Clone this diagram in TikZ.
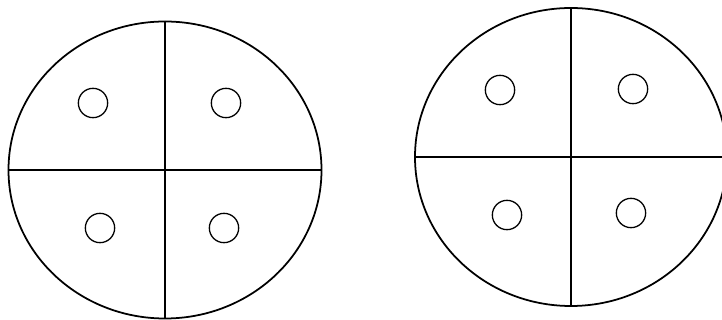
\documentclass[tikz,border=0pt]{standalone}
\usetikzlibrary{shapes.geometric}
\begin{document}
\begin{tikzpicture}[x=0.03cm, y=-0.03cm]
    % Define styles
    \tikzstyle{disc} = [ellipse, draw, line width=1.5pt, inner sep=0pt]
    \tikzstyle{hole} = [circle, draw, line width=1.1pt, inner sep=0pt, minimum size=0.88cm]
    \tikzstyle{cut} = [line width=1.2pt]

    \useasboundingbox (0,0) rectangle (722,320);

    % LEFT DISC
    \node (leftdisc) [disc, minimum width=9.39cm, minimum height=8.91cm] at (165,170) {};
    \draw [cut] (leftdisc.north) -- (leftdisc.south);
    \draw [cut] (leftdisc.west) -- (leftdisc.east);

    \node (lefttl) [hole] at (93,103) {};
    \node (lefttr) [hole] at (226,103) {};
    \node (leftbl) [hole] at (100,228) {};
    \node (leftbr) [hole] at (224,228) {};

    % RIGHT DISC
    \node (rightdisc) [disc, minimum width=9.36cm, minimum height=8.94cm] at (571,157) {};
    \draw [cut] (rightdisc.north) -- (rightdisc.south);
    \draw [cut] (rightdisc.west) -- (rightdisc.east);

    \node (righttl) [hole] at (500,90) {};
    \node (righttr) [hole] at (633,89) {};
    \node (rightbl) [hole] at (507,215) {};
    \node (rightbr) [hole] at (631,213) {};

\end{tikzpicture}
\end{document}
